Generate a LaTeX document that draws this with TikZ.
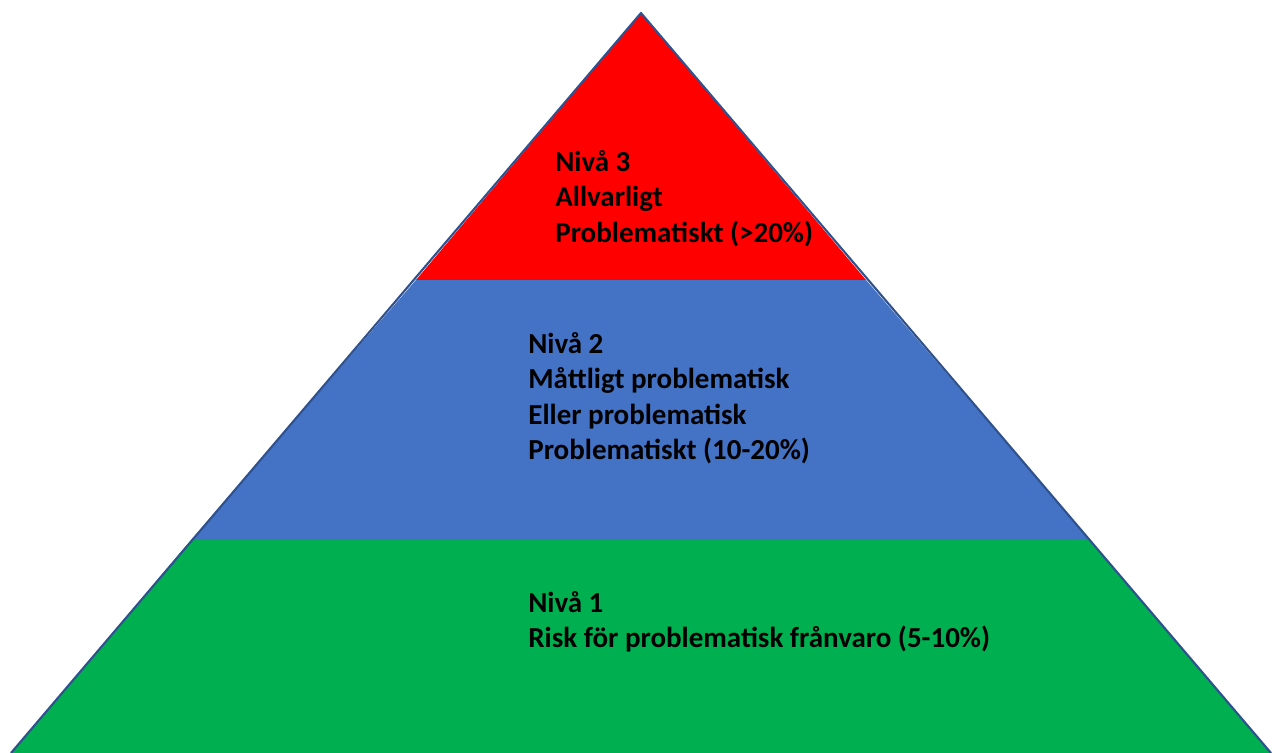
\documentclass[tikz,border=0pt]{standalone}
\usepackage{fontspec}
\setmainfont{Carlito}
\usepackage{xcolor}
\usepackage{tikz}
\usetikzlibrary{positioning}
\definecolor{nivared}{RGB}{255,0,0}
\definecolor{nivablue}{RGB}{68,114,196}
\definecolor{nivagreen}{RGB}{0,176,80}
\definecolor{edgeblue}{RGB}{47,82,143}

\begin{document}
\begin{tikzpicture}[
  x = 0.02cm, y = -0.02cm,
   edge/.style = {draw=edgeblue, line width=1.2pt, line join=round},
  levtext/.style = {anchor=north west, inner sep=0pt, align=left,
                    font=\fontsize{16.5}{20.2}\selectfont\bfseries}
                   ]
\useasboundingbox (0,0) rectangle (1276,753);
\fill[nivagreen] (191,540) -- (1090,540) -- (1271,753) -- (11,753) -- cycle;
\fill[nivablue]  (416,280) -- (866,280) -- (1090,540) -- (191,540) -- cycle;
\fill[nivared]   (641,13) -- (866,280) -- (416,280) -- cycle;
\draw[edge] (11,753) -- (641,13) -- (1271,753);
\node[levtext] (niva3) at (555,150) {Nivå 3\\Allvarligt\\Problematiskt (>20\%)};
\node[levtext] (niva2) at (528,332) {Nivå 2\\Måttligt problematisk\\Eller problematisk\\Problematiskt (10-20\%)};
\node[levtext] (niva1) at (528,591) {Nivå 1\\Risk för problematisk frånvaro (5-10\%)};
\end{tikzpicture}
\end{document}
